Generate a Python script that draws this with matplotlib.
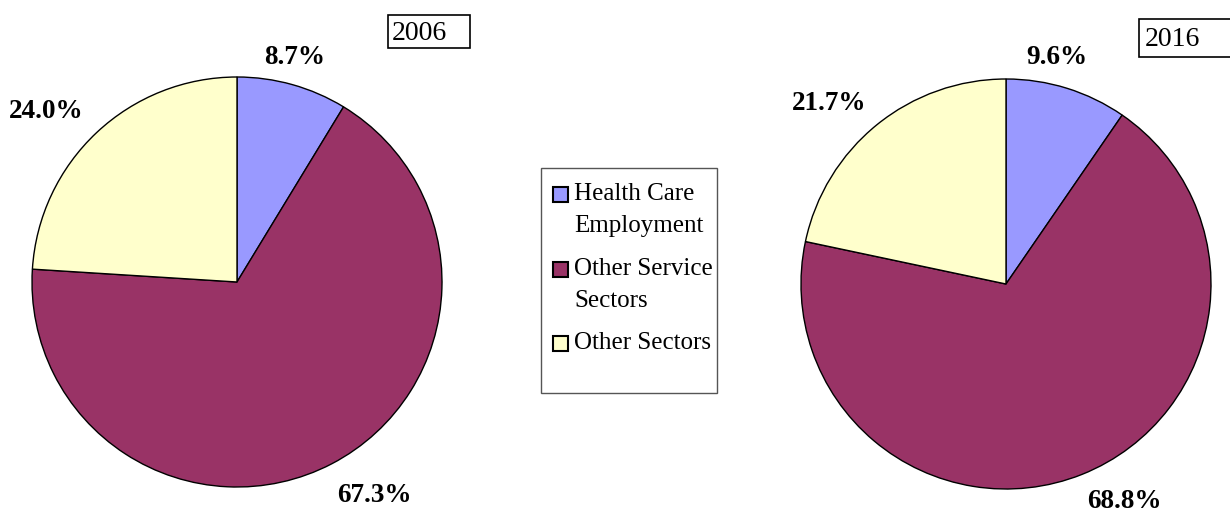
import matplotlib.pyplot as plt
from matplotlib.patches import Rectangle

# data
sectores = ["Health Care\nEmployment", "Other Service\nSectors", "Other Sectors"]
colores = ["#9999FF", "#993366", "#FFFFCC"]
anios = ["2006", "2016"]
valores_2006 = [8.7, 67.3, 24.0]
valores_2016 = [9.6, 68.8, 21.7]

W, H = 1230, 514
fig = plt.figure(figsize=(12.3, 5.14), dpi=100)
ax = fig.add_axes([0, 0, 1, 1])

serif = ["Liberation Serif", "DejaVu Serif"]


def y(py):
    # pixel desde arriba -> coordenadas
    return H - py


def dibujar_pie(valores, cx, cy, r, pos_etiquetas):
    ax.pie(valores, colors=colores, startangle=90, counterclock=False,
           center=(cx, y(cy)), radius=r, frame=True,
           wedgeprops=dict(edgecolor="black", linewidth=1))
    for v, (px, py) in zip(valores, pos_etiquetas):
        ax.text(px, y(py), "%.1f%%" % v, ha="center", va="center",
                family=serif, weight="bold", fontsize=19.5)


dibujar_pie(valores_2006, 237, 282, 205, [(295, 57), (374, 495), (46, 112)])
dibujar_pie(valores_2016, 1006, 284, 205, [(1057, 57), (1124, 501), (829, 104)])
ax.set_xlim(0, W)
ax.set_ylim(0, H)
ax.set_aspect("equal")
ax.axis("off")

# cajas de anio
ax.add_patch(Rectangle((388, y(48)), 82, 33, facecolor="white", edgecolor="black", lw=1.2))
ax.text(392, y(34), anios[0], ha="left", va="center", family=serif, fontsize=20)
ax.add_patch(Rectangle((1139, y(57)), 100, 38, facecolor="white", edgecolor="black", lw=1.2,
                       clip_on=False))
ax.text(1145, y(40), anios[1], ha="left", va="center", family=serif, fontsize=20)

# leyenda
ax.add_patch(Rectangle((541, y(393)), 176, 225, facecolor="white", edgecolor="#555555", lw=1))
filas = [(194, 226), (269, 301), (343, None)]
for (l1, l2), txt, c in zip(filas, sectores, colores):
    ax.add_patch(Rectangle((553, y(l1 + 8)), 15, 15, facecolor=c, edgecolor="black", lw=1.5))
    lineas = txt.split("\n")
    ax.text(574, y(l1), lineas[0], ha="left", va="center", family=serif, fontsize=18)
    if l2 is not None:
        ax.text(574, y(l2), lineas[1], ha="left", va="center", family=serif, fontsize=18)

fig.savefig("out.png", dpi=100)
